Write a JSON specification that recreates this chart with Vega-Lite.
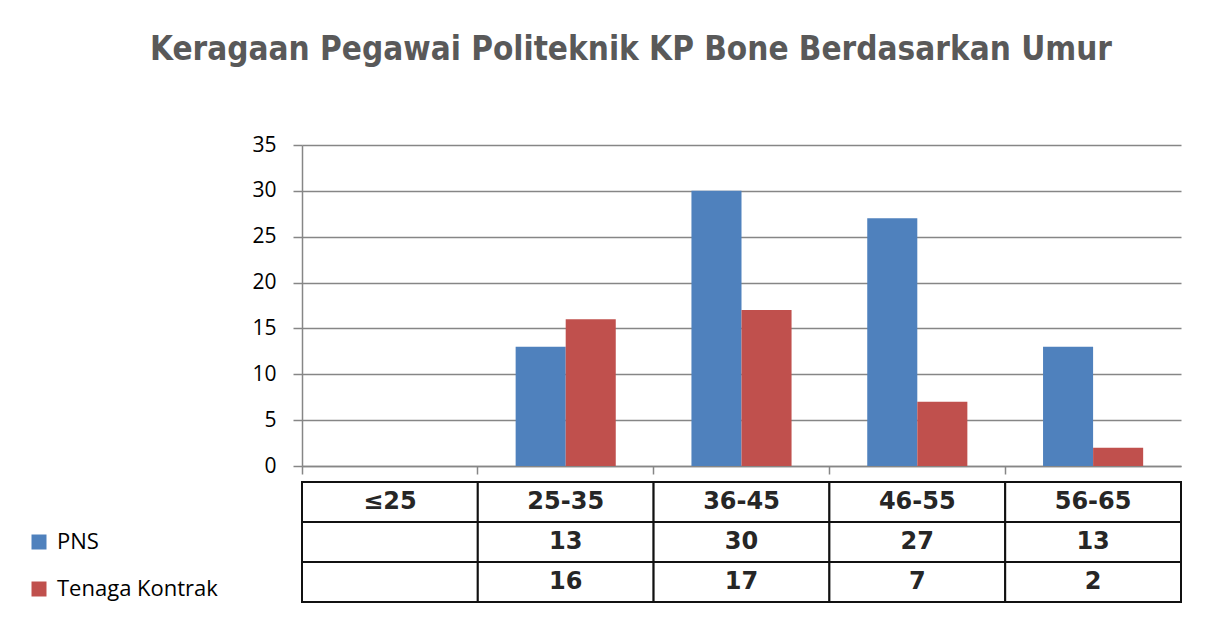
{
  "$schema": "https://vega.github.io/schema/vega-lite/v6.json",
  "background": "white",
  "padding": {"left": 28, "top": 34, "right": 0, "bottom": 0},
  "title": {
    "text": "Keragaan Pegawai Politeknik KP Bone Berdasarkan Umur",
    "font": "DejaVu Sans Condensed",
    "fontSize": 33,
    "fontWeight": "bold",
    "color": "#595959",
    "anchor": "middle",
    "dx": 26,
    "offset": 67
  },
  "datasets": {
    "pegawai": [
      {"umur": "≤25", "status": "PNS", "jumlah": null},
      {"umur": "≤25", "status": "Tenaga Kontrak", "jumlah": null},
      {"umur": "25-35", "status": "PNS", "jumlah": 13},
      {"umur": "25-35", "status": "Tenaga Kontrak", "jumlah": 16},
      {"umur": "36-45", "status": "PNS", "jumlah": 30},
      {"umur": "36-45", "status": "Tenaga Kontrak", "jumlah": 17},
      {"umur": "46-55", "status": "PNS", "jumlah": 27},
      {"umur": "46-55", "status": "Tenaga Kontrak", "jumlah": 7},
      {"umur": "56-65", "status": "PNS", "jumlah": 13},
      {"umur": "56-65", "status": "Tenaga Kontrak", "jumlah": 2}
    ],
    "tabel": [
      {"umur": "≤25", "baris": "Umur", "teks": "≤25"},
      {"umur": "25-35", "baris": "Umur", "teks": "25-35"},
      {"umur": "36-45", "baris": "Umur", "teks": "36-45"},
      {"umur": "46-55", "baris": "Umur", "teks": "46-55"},
      {"umur": "56-65", "baris": "Umur", "teks": "56-65"},
      {"umur": "≤25", "baris": "PNS", "teks": ""},
      {"umur": "25-35", "baris": "PNS", "teks": "13"},
      {"umur": "36-45", "baris": "PNS", "teks": "30"},
      {"umur": "46-55", "baris": "PNS", "teks": "27"},
      {"umur": "56-65", "baris": "PNS", "teks": "13"},
      {"umur": "≤25", "baris": "Tenaga Kontrak", "teks": ""},
      {"umur": "25-35", "baris": "Tenaga Kontrak", "teks": "16"},
      {"umur": "36-45", "baris": "Tenaga Kontrak", "teks": "17"},
      {"umur": "46-55", "baris": "Tenaga Kontrak", "teks": "7"},
      {"umur": "56-65", "baris": "Tenaga Kontrak", "teks": "2"}
    ]
  },
  "spacing": 5,
  "vconcat": [
    {
      "width": 879,
      "height": 321,
      "data": {"name": "pegawai"},
      "mark": {"type": "bar"},
      "encoding": {
        "x": {
          "field": "umur",
          "type": "nominal",
          "sort": null,
          "scale": {"domain": ["≤25", "25-35", "36-45", "46-55", "56-65"], "paddingInner": 0, "paddingOuter": 0},
          "axis": {
            "title": null,
            "labels": false,
            "ticks": true,
            "bandPosition": 0,
            "tickSize": 8,
            "tickColor": "#868686",
            "tickWidth": 1.5,
            "domain": true,
            "domainColor": "#868686",
            "domainWidth": 1.5,
            "grid": false
          }
        },
        "xOffset": {
          "field": "status",
          "type": "nominal",
          "scale": {"domain": ["PNS", "Tenaga Kontrak"], "paddingInner": 0, "paddingOuter": 0.756}
        },
        "y": {
          "field": "jumlah",
          "type": "quantitative",
          "scale": {"domain": [0, 35], "nice": false},
          "axis": {
            "title": null,
            "values": [0, 5, 10, 15, 20, 25, 30, 35],
            "grid": true,
            "gridColor": "#868686",
            "gridWidth": 1.5,
            "domain": true,
            "domainColor": "#868686",
            "domainWidth": 1.5,
            "ticks": true,
            "tickSize": 9,
            "tickColor": "#868686",
            "tickWidth": 1.5,
            "labelFont": "Open Sans",
            "labelFontSize": 21,
            "labelColor": "#000000",
            "labelPadding": 17,
            "minExtent": 274
          }
        },
        "color": {
          "field": "status",
          "type": "nominal",
          "scale": {"domain": ["PNS", "Tenaga Kontrak"], "range": ["#4F81BD", "#C0504D"]},
          "legend": {
            "title": null,
            "orient": "none",
            "legendX": -274,
            "legendY": 386,
            "direction": "vertical",
            "padding": 0,
            "symbolType": "square",
            "symbolSize": 225,
            "symbolStrokeWidth": 0,
            "labelFont": "Open Sans",
            "labelFontSize": 22,
            "labelColor": "#000000",
            "labelOffset": 7,
            "labelLimit": 400,
            "rowPadding": 25
          }
        }
      }
    },
    {
      "width": 879,
      "height": 120,
      "data": {"name": "tabel"},
      "encoding": {
        "x": {
          "field": "umur",
          "type": "nominal",
          "sort": null,
          "scale": {"domain": ["≤25", "25-35", "36-45", "46-55", "56-65"], "paddingInner": 0, "paddingOuter": 0},
          "axis": null
        },
        "y": {
          "field": "baris",
          "type": "nominal",
          "scale": {"domain": ["Umur", "PNS", "Tenaga Kontrak"], "paddingInner": 0, "paddingOuter": 0},
          "axis": null
        }
      },
      "layer": [
        {"mark": {"type": "rect", "fill": "white", "stroke": "#111111", "strokeWidth": 2}},
        {
          "mark": {"type": "text", "font": "DejaVu Sans", "fontSize": 24, "fontWeight": "bold", "color": "#262626", "align": "center", "baseline": "middle"},
          "encoding": {"text": {"field": "teks", "type": "nominal"}}
        }
      ]
    }
  ],
  "config": {"view": {"stroke": null}}
}
